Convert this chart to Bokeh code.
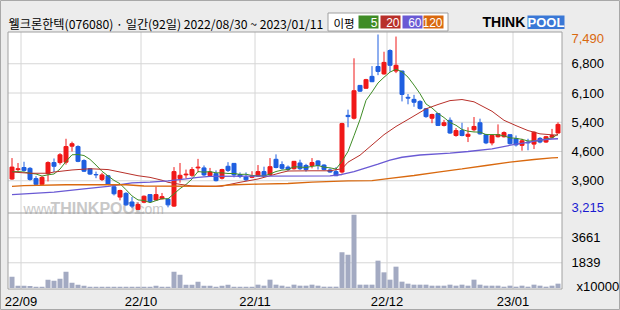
from bokeh.plotting import figure
from bokeh.models import Range1d, Label, ColumnDataSource
from bokeh.core.properties import value
from bokeh.embed import file_html
from bokeh.resources import INLINE

# ---------------- data ----------------
stock_name = "웰크론한텍"
stock_code = "076080"

dates = (["2022-08-30", "2022-08-31"]
         + ["2022-09-%02d" % d for d in [1, 2, 5, 6, 7, 8, 13, 14, 15, 16, 19, 20, 21, 22, 23, 26, 27, 28, 29, 30]]
         + ["2022-10-%02d" % d for d in [4, 5, 6, 7, 11, 12, 13, 14, 17, 18, 19, 20, 21, 24, 25, 26, 27, 28, 31]]
         + ["2022-11-%02d" % d for d in [1, 2, 3, 4, 7, 8, 9, 10, 11, 14, 15, 16, 17, 18, 21, 22, 23, 24, 25, 28, 29, 30]]
         + ["2022-12-%02d" % d for d in [1, 2, 5, 6, 7, 8, 9, 12, 13, 14, 15, 16, 19, 20, 21, 22, 23, 26, 27, 28, 29]]
         + ["2023-01-%02d" % d for d in [2, 3, 4, 5, 6, 9, 10, 11]])

opens = [3970, 4200, 4250, 4230, 3980, 3840, 4100, 4370, 4370, 4380,
         4770, 4760, 4420, 4220, 4080, 3960, 4050, 3780, 3530, 3620,
         3410, 3230, 3405, 3590, 3460, 3490, 3480, 3310, 3980, 4070,
         4060, 4240, 4240, 4055, 4100, 3990, 4280, 4350, 4080, 4020,
         4010, 4040, 4150, 4080, 4450, 4320, 4260, 4220, 4360, 4300,
         4300, 4410, 4310, 4190, 4150, 4140, 5520, 5450, 6250, 6180,
         6470, 6710, 6530, 7100, 6600, 6600, 5960, 5910, 5860, 5680,
         5450, 5565, 5275, 5400, 5030, 5150, 5010, 5170, 5340, 5050,
         4850, 5000, 5000, 5050, 4950, 4790, 4870, 4820, 4960, 4870,
         4990, 5090]
highs = [4480, 4360, 4390, 4260, 4040, 4040, 4400, 4470, 4600, 4950,
         4880, 4790, 4450, 4230, 4150, 4120, 4070, 3830, 3710, 3650,
         3530, 3400, 3570, 3600, 3780, 3630, 3490, 4260, 4360, 4200,
         4260, 4460, 4300, 4240, 4180, 4220, 4380, 4360, 4130, 4130,
         4160, 4310, 4270, 4480, 4570, 4400, 4300, 4410, 4440, 4340,
         4480, 4430, 4330, 4230, 4260, 5340, 5660, 6910, 6260, 6410,
         6720, 7490, 7070, 7130, 7440, 6610, 6040, 6020, 5890, 5700,
         5560, 5580, 5410, 5470, 5210, 5340, 5230, 5480, 5440, 5070,
         5050, 5300, 5130, 5060, 5030, 4950, 4950, 5130, 4990, 5020,
         5190, 5350]
lows = [3950, 4160, 4150, 3930, 3810, 3830, 3910, 4140, 4320, 4320,
        4640, 4380, 4140, 4070, 3990, 3920, 3830, 3570, 3450, 3320,
        3260, 3215, 3380, 3400, 3450, 3470, 3280, 3290, 3880, 3980,
        4020, 4130, 4040, 4040, 3910, 3960, 4140, 4010, 3990, 3920,
        3990, 4020, 4020, 4060, 4230, 4200, 4160, 4200, 4190, 4150,
        4230, 4200, 4180, 4120, 4040, 4100, 5230, 5420, 6090, 6170,
        6330, 6500, 6510, 6580, 6550, 5860, 5790, 5730, 5660, 5460,
        5330, 5260, 5250, 5070, 5000, 5010, 4870, 5130, 5050, 4820,
        4790, 4980, 4980, 4810, 4760, 4660, 4670, 4700, 4840, 4850,
        4950, 5080]
closes = [4260, 4220, 4180, 3960, 3840, 4010, 4370, 4280, 4560, 4760,
          4830, 4400, 4160, 4090, 4070, 4070, 3840, 3610, 3690, 3340,
          3310, 3350, 3550, 3420, 3590, 3540, 3340, 4150, 4060, 4090,
          4200, 4260, 4070, 4140, 3930, 4200, 4180, 4070, 4030, 3950,
          4050, 4150, 4040, 4270, 4250, 4230, 4200, 4400, 4220, 4200,
          4370, 4300, 4200, 4140, 4050, 5320, 5490, 6120, 6110, 6390,
          6340, 6590, 6810, 6740, 6740, 6030, 5940, 5840, 5690, 5490,
          5540, 5275, 5340, 5090, 5150, 5030, 5060, 5250, 5070, 4850,
          5030, 5050, 5100, 4830, 4800, 4900, 4850, 5110, 4870, 5000,
          5030, 5300]
volumes = [826, 170, 170, 146, 97, 97, 608, 535, 680, 1190,
           389, 243, 170, 97, 97, 97, 97, 97, 97, 97,
           97, 97, 97, 97, 170, 97, 97, 1190, 972, 243,
           243, 462, 170, 170, 97, 170, 243, 97, 97, 97,
           97, 243, 170, 608, 243, 170, 97, 243, 170, 170,
           243, 170, 97, 97, 97, 2600, 2430, 5346, 243, 243,
           243, 1993, 1142, 608, 1555, 462, 316, 243, 243, 243,
           170, 170, 170, 243, 170, 243, 170, 608, 243, 170,
           170, 170, 97, 170, 97, 170, 97, 243, 170, 97,
           170, 316]

ma5 = [4150, 4150, 4140, 4110, 4092, 4042, 4072, 4092, 4212, 4396,
       4560, 4566, 4542, 4448, 4310, 4158, 4046, 3936, 3856, 3710,
       3558, 3460, 3448, 3394, 3444, 3490, 3488, 3608, 3736, 3836,
       3968, 4152, 4136, 4152, 4120, 4120, 4104, 4104, 4082, 4086,
       4056, 4050, 4044, 4092, 4152, 4188, 4198, 4270, 4260, 4250,
       4278, 4298, 4258, 4242, 4212, 4402, 4640, 5024, 5418, 5886,
       6090, 6310, 6448, 6574, 6644, 6582, 6452, 6258, 6048, 5798,
       5700, 5567, 5467, 5347, 5279, 5177, 5134, 5116, 5112, 5052,
       5052, 5050, 5020, 4972, 4962, 4936, 4896, 4898, 4906, 4946,
       4972, 5062]
ma20_idx = [0, 3, 6, 7, 10, 13, 16, 17, 19, 21, 23, 25, 26, 28, 30, 32, 35, 36, 38, 41,
            43, 45, 46, 50, 53, 55, 56, 58, 60, 62, 64, 66, 69, 71, 73, 75, 77, 80, 82, 84,
            86, 88, 90, 91]
ma20_val = [4140, 4110, 4110, 4140, 4190, 4220, 4200, 4170, 4110, 4050, 4010, 3940, 3890, 3840,
            3800, 3795, 3795, 3830, 3890, 3970, 4050, 4130, 4165, 4170, 4170, 4220, 4380, 4550,
            4800, 5050, 5250, 5420, 5680, 5785, 5880, 5906, 5850, 5620, 5400, 5270, 5150, 5070,
            5046, 5040]
ma60_idx = [0, 7, 12, 16, 20, 23, 26, 29, 31, 33, 40, 53, 55, 57, 59, 61, 63, 65, 68, 73,
            76, 80, 84, 86, 88, 90, 91]
ma60_val = [3590, 3650, 3730, 3790, 3876, 3893, 3925, 3975, 4010, 4035, 4040, 4045, 4080, 4150,
            4240, 4330, 4430, 4500, 4555, 4600, 4640, 4705, 4820, 4860, 4920, 4945, 4950]
ma120_idx = [0, 2, 9, 19, 22, 34, 35, 37, 41, 46, 50, 56, 60, 63, 67, 71, 75, 79, 83, 87,
             90, 91]
ma120_val = [3790, 3810, 3830, 3830, 3800, 3790, 3810, 3830, 3845, 3860, 3893, 3925, 3930, 3985,
             4055, 4136, 4217, 4299, 4380, 4445, 4485, 4490]

ma_periods = [5, 20, 60, 120]
ma_colors = ["#3f8c26", "#b8302a", "#6a5ad4", "#d9690f"]
vol_ticks = [1839, 3661]
vol_unit = "x10000"

# ---------------- geometry (pixels of the 620x310 canvas) ----------------
W, H = 620, 310
PX = 6.0                    # pixels per trading day
X0PX = 11.5                 # pixel centre of the first day
n = len(dates)
hi, lo = max(highs), min(lows)
ppp = (hi - lo) / 175.5     # price per pixel; the high sits at pixel row 34
vpp = 72.9                  # volume per pixel; zero at pixel row 287.5
FL, FR, FT, FB, FS = 7.5, 561.5, 31.5, 288.5, 212.5   # panel frame lines


def px_x(px):
    return (px - X0PX) / PX


def px_p(py):
    return hi - (py - 34) * ppp


def px_v(py):
    return (287.5 - py) * vpp


AX_FONT = "Liberation Sans"
KR_FONT = "Noto Sans CJK KR"

p = figure(width=W, height=H, output_backend="svg", toolbar_location=None,
           x_range=Range1d(px_x(0), px_x(W)), y_range=Range1d(px_p(H), px_p(0)),
           x_axis_location=None, y_axis_location=None,
           min_border_left=0, min_border_right=0, min_border_top=0, min_border_bottom=0,
           background_fill_color="#ececec", border_fill_color="#ececec",
           outline_line_color="#a8a8a8")
p.extra_y_ranges = {"vol": Range1d(px_v(H), px_v(0))}
p.xgrid.visible = False
p.ygrid.visible = False

GRID = "#d6d6d6"
FRAME = "#a0a0a0"

# panel background
p.quad(left=[px_x(FL)], right=[px_x(FR)], top=[px_p(FT)], bottom=[px_p(FB)],
       fill_color="white", line_color=None)

# month grid lines
month_ticks, month_labels = [], []
for i in range(1, n):
    if dates[i][:7] != dates[i - 1][:7]:
        month_ticks.append(i - 0.5)
        month_labels.append(dates[i][2:4] + "/" + dates[i][5:7])
p.segment(x0=month_ticks, y0=[px_p(FT)] * len(month_ticks), x1=month_ticks,
          y1=[px_p(FB)] * len(month_ticks), line_color=GRID, line_width=1)

# price grid lines (6 equal steps between low and high)
price_ticks = [lo + k * (hi - lo) / 6 for k in range(1, 6)]
price_labels = [f"{int(round(t / 100.0)) * 100:,}" for t in price_ticks]
p.segment(x0=[px_x(FL)] * 5, y0=price_ticks, x1=[px_x(FR)] * 5, y1=price_ticks,
          line_color=GRID, line_width=1)
# volume grid lines
p.segment(x0=[px_x(FL)] * len(vol_ticks), y0=vol_ticks, x1=[px_x(FR)] * len(vol_ticks),
          y1=vol_ticks, y_range_name="vol", line_color=GRID, line_width=1)

# watermark
p.text(x=[px_x(23)], y=[px_p(208)], text=["www."], text_font=value("Liberation Sans"),
       text_font_size="14px", text_color="#c8c8c8", text_baseline="alphabetic")
p.text(x=[px_x(50)], y=[px_p(208)], text=["THINKPOOL"], text_font=value("Liberation Sans"),
       text_font_size="16px", text_font_style="bold", text_color="#c8c8c8",
       text_baseline="alphabetic")
p.text(x=[px_x(133)], y=[px_p(208)], text=[".com"], text_font=value("Liberation Sans"),
       text_font_size="14px", text_color="#c8c8c8", text_baseline="alphabetic")

# candles
idx = list(range(n))
cols = ["#f01818" if c >= o else "#1f5fe0" for o, c in zip(opens, closes)]
src = ColumnDataSource(dict(x=idx, h=highs, l=lows,
                            top=[max(o, c) for o, c in zip(opens, closes)],
                            bot=[min(o, c) for o, c in zip(opens, closes)],
                            color=cols, vol=volumes))
p.segment(x0="x", y0="l", x1="x", y1="h", color="color", line_width=1, source=src)
p.vbar(x="x", width=4 / PX, top="top", bottom="bot", fill_color="color", line_color="color",
       line_width=1, source=src)

# moving averages
p.line(idx, ma5, line_color=ma_colors[0], line_width=1)
p.line(ma20_idx, ma20_val, line_color=ma_colors[1], line_width=1)
p.line(ma60_idx, ma60_val, line_color=ma_colors[2], line_width=1.3)
p.line(ma120_idx, ma120_val, line_color=ma_colors[3], line_width=1.3)

# volume bars
p.vbar(x="x", width=5 / PX, top="vol", bottom=0, y_range_name="vol", fill_color="#a3aac2",
       line_color=None, source=src)

# panel frame and separator
p.quad(left=[px_x(FL)], right=[px_x(FR)], top=[px_p(FT)], bottom=[px_p(FB)],
       fill_color=None, line_color=FRAME, line_width=1)
p.segment(x0=[px_x(FL)], y0=[px_p(FS)], x1=[px_x(FR)], y1=[px_p(FS)],
          line_color=FRAME, line_width=1)

# header boxes
p.quad(left=[px_x(327.5)], right=[px_x(447.5)], top=[px_p(12.5)], bottom=[px_p(30.5)],
       fill_color="white", line_color="#a0a0a0", line_width=1)
box_l = [358, 380, 402, 423]
box_r = [378, 400, 422, 443]
p.quad(left=[px_x(v) for v in box_l], right=[px_x(v) for v in box_r],
       top=[px_p(15)] * 4, bottom=[px_p(28)] * 4, fill_color=ma_colors, line_color=None)
p.quad(left=[px_x(527)], right=[px_x(564)], top=[px_p(15)], bottom=[px_p(28.5)],
       fill_color="#3a78d6", line_color=None)


def lab(x, y, text, **kw):
    opts = dict(text_font=AX_FONT, text_font_size="13px", text_color="black",
                text_baseline="middle", text_align="left")
    opts.update(kw)
    p.add_layout(Label(x=x, y=y, text=text, **opts))


# right price labels
lab_x = px_x(571)
for t, s in zip(price_ticks, price_labels):
    lab(lab_x, t, s)
lab(lab_x, px_p(37.7), f"{hi:,}", text_color="#d9690f")
lab(lab_x, px_p(207), f"{lo:,}", text_color="#1a1ad0")
for v in vol_ticks:
    lab(lab_x, v, str(v), y_range_name="vol")
lab(px_x(576), px_v(286), vol_unit, y_range_name="vol")

# date labels
for t, s in zip(month_ticks, month_labels):
    lab(t, px_p(301), s, text_align="center")

# header texts
title = (f"{stock_name}({stock_code}) · 일간({n}일) "
         f"{dates[0].replace('-', '/')} ~ {dates[-1].replace('-', '/')}")
lab(px_x(8), px_p(23), title, text_font=KR_FONT, text_font_size="12.2px")
lab(px_x(333), px_p(22), "이평", text_font=KR_FONT, text_font_size="11.5px")
for per, rx in zip(ma_periods, box_r):
    lab(px_x(rx - 1), px_p(21.8), str(per), text_font_size="12px", text_color="white",
        text_align="right")
lab(px_x(482), px_p(21.8), "THINK", text_font_size="14px", text_font_style="bold")
lab(px_x(545.5), px_p(21.8), "POOL", text_font_size="13px", text_font_style="bold",
    text_color="white", text_align="center")

open("out.html", "w").write(file_html(p, INLINE))
